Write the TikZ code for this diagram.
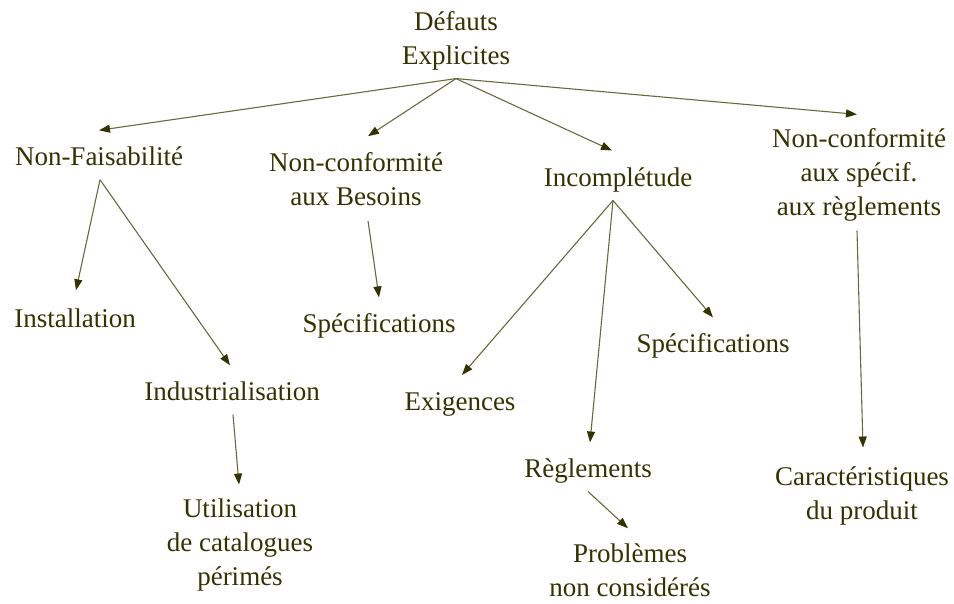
\documentclass[tikz,border=0pt]{standalone}
\usepackage{fontspec}
\setmainfont{Liberation Serif}
\usetikzlibrary{arrows.meta}
\definecolor{olivetext}{RGB}{51,51,0}
\definecolor{oliveline}{RGB}{105,105,60}

\begin{document}
\begin{tikzpicture}[x=1pt,y=-1pt,
  every node/.style={text=olivetext,align=center,inner sep=8pt,
    font=\fontsize{27}{34}\selectfont},
  link/.style={draw=oliveline,line width=1.1pt,
    -{Triangle[length=11pt,width=8pt,color=olivetext]}}]
\useasboundingbox (0,0) rectangle (954,604);

% top
\node (root) at (456,41) {Défauts\\Explicites};

% first level
\node (nonf)    at (99,156)  {Non-Faisabilité};
\node (besoins) at (356,179) {Non-conformité\\aux Besoins};
\node (incompl) at (618,180) {Incomplétude};
\node (conf)    at (859,175) {Non-conformité\\aux spécif.\\aux règlements};

% second level
\node (install) at (75,318)  {Installation};
\node (indus)   at (232,391) {Industrialisation};
\node (specL)   at (379,326) {Spécifications};
\node (exig)    at (460,404) {Exigences};
\node (specR)   at (713,346) {Spécifications};
\node (regl)    at (588,471) {Règlements};
\node (carac)   at (862,496) {Caractéristiques\\du produit};

% third level
\node (util)    at (240,545) {Utilisation\\de catalogues\\périmés};
\node (probl)   at (630,570) {Problèmes\\non considérés};

% links
\draw[link] (root.south) -- ([yshift=8pt]nonf.north);
\draw[link] (root.south) -- ([xshift=12pt,yshift=8pt]besoins.north);
\draw[link] (root.south) -- ([xshift=-6pt,yshift=9pt]incompl.north);
\draw[link] (root.south) -- ([xshift=-2pt,yshift=6pt]conf.north);

\draw[link] ([xshift=1pt,yshift=-6pt]nonf.south) -- ([xshift=1pt,yshift=10pt]install.north);
\draw[link] ([xshift=1pt,yshift=-6pt]nonf.south) -- ([xshift=-2pt,yshift=8pt]indus.north);
\draw[link] ([xshift=12pt,yshift=-7pt]besoins.south) -- ([yshift=8pt]specL.north);
\draw[link] ([xshift=-5pt]incompl.south) -- ([xshift=2pt,yshift=9pt]exig.north);
\draw[link] ([xshift=-5pt]incompl.south) -- ([xshift=2pt,yshift=8pt]regl.north);
\draw[link] ([xshift=-5pt]incompl.south) -- ([yshift=8pt]specR.north);
\draw[link] ([xshift=-2pt,yshift=-1pt]conf.south) -- ([xshift=1pt,yshift=11pt]carac.north);

\draw[link] ([xshift=1pt,yshift=-6pt]indus.south) -- ([xshift=-1pt,yshift=6pt]util.north);
\draw[link] (regl.south) -- ([xshift=-2pt,yshift=7pt]probl.north);
\end{tikzpicture}
\end{document}
